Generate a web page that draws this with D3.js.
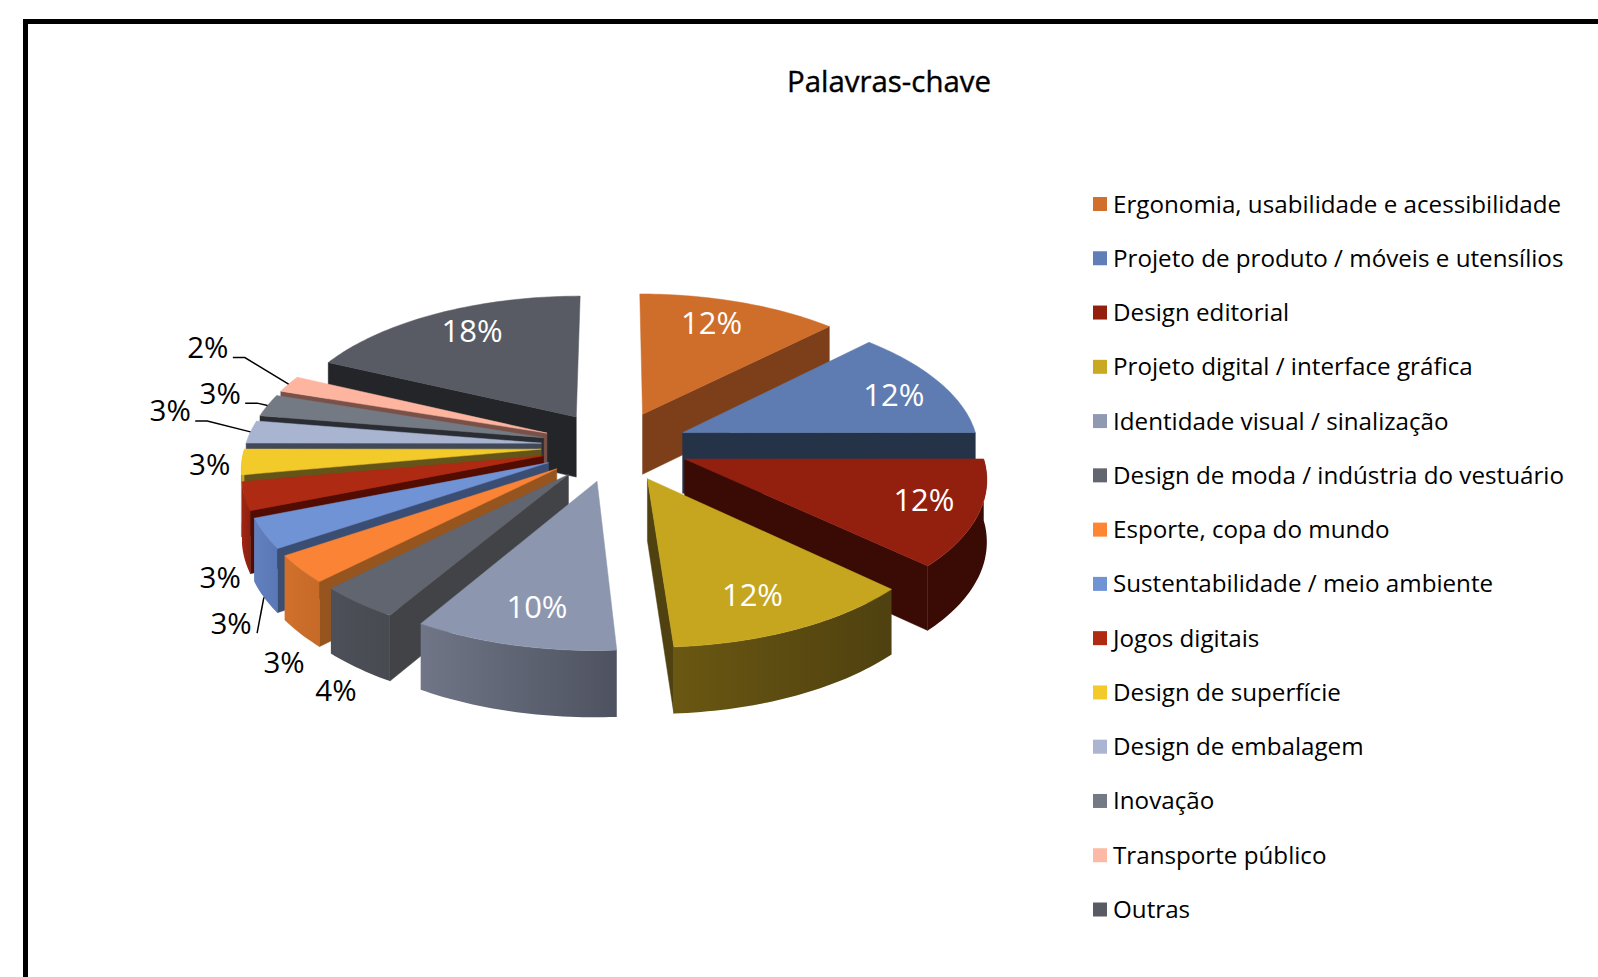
<!DOCTYPE html>
<html lang="pt">
<head>
<meta charset="utf-8">
<title>Palavras-chave</title>
<script src="https://cdn.jsdelivr.net/npm/d3@7"></script>
<style>
html,body{margin:0;padding:0;background:#fff}
svg{display:block}
text{font-family:"Open Sans",sans-serif}
</style>
</head>
<body>
<svg id="chart" width="1598" height="977"></svg>
<script>
const chartTitle = "Palavras-chave";
const categories = ["Ergonomia, usabilidade e acessibilidade","Projeto de produto / móveis e utensílios","Design editorial","Projeto digital / interface gráfica","Identidade visual / sinalização","Design de moda / indústria do vestuário","Esporte, copa do mundo","Sustentabilidade / meio ambiente","Jogos digitais","Design de superfície","Design de embalagem","Inovação","Transporte público","Outras"];
const values = [12.49,12.49,12.0,12.0,9.62,3.88,3.14,3.39,3.14,2.86,2.56,2.51,1.9,18.02];
const topColors = ["#CF6D2B","#5F7CB2","#93200F","#C6A61F","#8C97AF","#61656F","#FB8335","#7093D6","#AE2A12","#F2CA2A","#A9B4D1","#747A83","#FDB5A0","#585B63"];
const legendColors = ["#D1702D","#5F7FB6","#93200F","#C9A921","#8F9AB2","#62666F","#FF8533","#7093D6","#B02A12","#F2CB2A","#ABB5D2","#747A83","#FDB9A5","#585B63"];
const sideColors = ["#7D3F1A","#253349","#3A0A04","#4F4110","#4F5361","#424347","#96551F","#3A4E74","#520C02","#65541A","#414958","#2A2D33","#7A5148","#232528"];
const rimColorsA = ["#7D3F1A","#253349","#3A0A04","#6A5712","#707687","#4E5059","#D0702C","#6280BE","#9E2612","#C6A61F","#8C97AF","#5C6068","#CF9582","#232528"];
const rimColorsB = ["#7D3F1A","#253349","#3A0A04","#4F4110","#4E5260","#484A52","#C66A28","#5A78B4","#8E200F","#C6A61F","#8C97AF","#5C6068","#CF9582","#232528"];

// label layout: [slice, angle in degrees, radius relative to the pie]
const insideLabels = [[0,20.5,1.035],[1,69,1.053],[2,110.2,1.065],[3,156.3,1.03],[4,193,1.036],[13,329.4,1.047]];
const outerLabels = [[5,208.5,1.647],[6,216,1.616],[7,225.9,1.578],[8,235.1,1.469],[9,264.4,1.355],[10,279.4,1.568],[11,285.7,1.448],[12,296.9,1.677]];
const elbowLeaders = [10,11,12];
const wallLeaders = [7];

const svg = d3.select("#chart");
const W = 1598, H = 977;
const Cx = 615, Cy = 446, Sx = 296, Sy = 141, persp = 0.115, wallH = 61, wallPersp = 0.07, explode = 0.25;

// frame
svg.append("path").attr("d", `M25.5,${H+10}V21.5H${W+10}`).attr("fill","none").attr("stroke","#000").attr("stroke-width",5);

svg.append("text").attr("x",889).attr("y",92).attr("text-anchor","middle")
  .attr("font-size",29.4).attr("fill","#000").attr("stroke","#000").attr("stroke-width",0.4).text(chartTitle);

function project(x,y,z){
  const w = 1+persp*y;
  return [Cx+Sx*x/w, Cy-Sy*y/w+(z||0)*wallH/(1+wallPersp*y)];
}
const pie = d3.pie().sort(null).value(d=>d);
const arcs = pie(values).map((a,i)=>{
  const mid=(a.startAngle+a.endAngle)/2;
  const ox=explode*Math.sin(mid), oy=explode*Math.cos(mid);
  return {i,a0:a.startAngle,a1:a.endAngle,mid,ox,oy,tip:project(ox,oy,0)};
});
const pt=(s,ang,r,z)=>project(s.ox+r*Math.sin(ang),s.oy+r*Math.cos(ang),z);
const line=d3.line();
const closed=pts=>line(pts)+"Z";
const sampled=(a,b)=>{const n=Math.max(2,Math.ceil((b-a)/0.02));return d3.range(n+1).map(k=>a+(b-a)*k/n);};

const defs=svg.append("defs");
const slices=svg.append("g");
arcs.slice().sort((p,q)=>d3.ascending(p.tip[1],q.tip[1])).forEach(s=>{
  const g=slices.append("g");
  const i=s.i;
  const side=ang=>{
    g.append("path").attr("d",closed([pt(s,ang,0,0),pt(s,ang,1,0),pt(s,ang,1,1),pt(s,ang,0,1)]))
      .attr("fill",sideColors[i]).attr("stroke",sideColors[i]).attr("stroke-width",0.5);
  };
  if(Math.sin(s.a0)<-1e-6) side(s.a0);
  if(Math.sin(s.a1)>1e-6) side(s.a1);
  const from=Math.max(s.a0,Math.PI/2), to=Math.min(s.a1,Math.PI*1.5);
  if(to>from){
    const gid="rim"+i;
    const lg=defs.append("linearGradient").attr("id",gid).attr("x1",1).attr("x2",0).attr("y1",0).attr("y2",0);
    lg.append("stop").attr("offset",0).attr("stop-color",rimColorsB[i]);
    lg.append("stop").attr("offset",1).attr("stop-color",rimColorsA[i]);
    const angs=sampled(from,to);
    const pts=angs.map(a=>pt(s,a,1,0)).concat(angs.slice().reverse().map(a=>pt(s,a,1,1)));
    g.append("path").attr("d",closed(pts)).attr("fill",`url(#${gid})`);
  }
  const top=[pt(s,0,0,0)].concat(sampled(s.a0,s.a1).map(a=>pt(s,a,1,0)));
  g.append("path").attr("d",closed(top)).attr("fill",topColors[i]).attr("stroke",topColors[i]).attr("stroke-width",0.5).attr("stroke-linejoin","round");
});

// percent labels
const fmt=v=>Math.round(v)+"%";
const total=d3.sum(values);
const polar=(deg,r)=>{const a=deg*Math.PI/180;return project(r*Math.sin(a),r*Math.cos(a),0);};
insideLabels.forEach(([i,deg,r])=>{
  const p=polar(deg,r);
  svg.append("text").attr("x",p[0]).attr("y",p[1]+11).attr("text-anchor","middle")
    .attr("font-size",31).attr("fill","#fff").text(fmt(values[i]/total*100));
});
const labelXY={};
outerLabels.forEach(([i,deg,r])=>{
  const p=polar(deg,r);
  labelXY[i]=p;
  svg.append("text").attr("x",p[0]).attr("y",p[1]+10.5).attr("text-anchor","middle")
    .attr("font-size",29.5).attr("fill","#000").text(fmt(values[i]/total*100));
});
// leader lines
elbowLeaders.forEach(i=>{
  const s=arcs[i],l=labelXY[i],e=pt(s,s.mid,1,0);
  svg.append("path").attr("fill","none").attr("stroke","#000").attr("stroke-width",1.5)
    .attr("d",line([[l[0]+25,l[1]+10],[l[0]+37,l[1]+10],e]));
});
wallLeaders.forEach(i=>{
  const s=arcs[i],l=labelXY[i],e=pt(s,s.mid,1,1);
  svg.append("path").attr("fill","none").attr("stroke","#000").attr("stroke-width",1.5)
    .attr("d",line([[l[0]+26,l[1]+10],e]));
});

// legend
const legendY=d3.scalePoint().domain(categories).range([204,909.5]);
const lg=svg.append("g");
categories.forEach((c,i)=>{
  const y=legendY(c);
  lg.append("rect").attr("x",1093).attr("y",y-7).attr("width",14).attr("height",14).attr("fill",legendColors[i]);
  lg.append("text").attr("x",1113).attr("y",y+8.5).attr("font-size",24.2).attr("fill","#000").text(c);
});
</script>
</body>
</html>
